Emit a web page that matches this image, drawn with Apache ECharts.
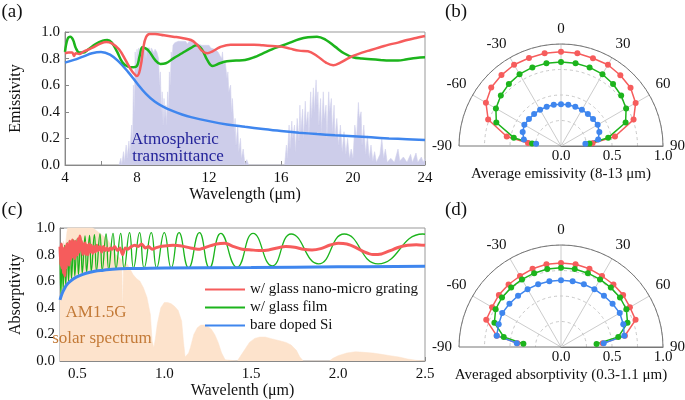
<!DOCTYPE html>
<html><head><meta charset="utf-8">
<script src="https://cdn.jsdelivr.net/npm/echarts@6/dist/echarts.min.js"></script>
<style>html,body{margin:0;padding:0;background:#fff}#c{width:685px;height:400px}</style>
</head><body><div id="c"></div>
<script>
// ---------- Panel (a): spectral emissivity ----------
const aRedX   = [4.0,4.2,4.4,4.5,4.6,4.8,5.0,5.5,6.0,6.3,6.6,7.0,7.4,7.7,8.0,8.2,8.35,8.5,8.7,9.0,9.5,10.0,10.5,11.0,11.3,11.6,11.9,12.2,12.6,13.2,14.0,14.5,15.0,15.5,16.0,16.5,17.0,17.5,18.0,18.5,18.9,19.3,19.7,20.0,20.5,21.0,21.5,22.0,22.5,23.0,23.5,24.0];
const aRedY   = [0.84,0.845,0.845,0.82,0.84,0.835,0.85,0.88,0.915,0.925,0.915,0.87,0.78,0.71,0.67,0.74,0.88,0.96,0.985,0.985,0.975,0.965,0.955,0.94,0.91,0.86,0.84,0.855,0.885,0.905,0.905,0.905,0.9,0.895,0.89,0.875,0.86,0.855,0.82,0.77,0.75,0.77,0.80,0.82,0.845,0.865,0.885,0.905,0.92,0.94,0.955,0.97];
const aGreenX = [4.0,4.15,4.3,4.45,4.6,4.8,5.0,5.3,5.7,6.1,6.35,6.6,6.9,7.2,7.5,7.8,8.0,8.15,8.3,8.5,8.7,9.0,9.3,9.6,10.0,10.5,11.0,11.3,11.6,11.9,12.2,12.6,13.0,13.5,14.0,14.5,15.0,15.5,16.0,16.5,17.0,17.5,18.0,18.5,19.0,19.5,20.0,20.5,21.0,21.5,22.0,22.5,23.0,23.5,24.0];
const aGreenY = [0.85,0.95,0.965,0.94,0.88,0.845,0.845,0.87,0.91,0.935,0.94,0.92,0.85,0.77,0.74,0.735,0.745,0.82,0.885,0.875,0.85,0.79,0.76,0.765,0.80,0.84,0.88,0.90,0.87,0.79,0.745,0.765,0.78,0.785,0.79,0.81,0.84,0.87,0.895,0.92,0.945,0.96,0.965,0.94,0.89,0.84,0.81,0.80,0.795,0.79,0.785,0.785,0.795,0.805,0.81];
const aBlueX  = [4.0,4.5,5.0,5.5,6.0,6.5,7.0,7.5,8.0,8.5,9.0,9.5,10.0,10.5,11.0,12.0,13.0,14.0,15.0,16.0,17.0,18.0,19.0,20.0,21.0,22.0,23.0,24.0];
const aBlueY  = [0.77,0.79,0.815,0.84,0.85,0.83,0.775,0.70,0.615,0.535,0.475,0.435,0.405,0.38,0.36,0.33,0.305,0.287,0.27,0.255,0.243,0.233,0.224,0.216,0.208,0.2,0.194,0.188];
const atmX = [7.0,7.1,7.15,7.25,7.3,7.4,7.45,7.55,7.6,7.7,7.75,7.8,7.85,7.9,7.95,8.0,8.05,8.1,8.15,8.2,8.25,8.3,8.35,8.4,8.45,8.5,8.55,8.6,8.7,8.75,8.8,8.9,8.95,9.0,9.1,9.2,9.25,9.3,9.35,9.4,9.45,9.5,9.55,9.6,9.65,9.7,9.75,9.8,9.85,9.9,9.95,10.0,10.1,10.2,10.3,10.4,10.5,10.6,10.7,10.8,10.9,11.0,11.1,11.2,11.3,11.4,11.5,11.6,11.7,11.8,11.9,12.0,12.1,12.2,12.3,12.4,12.5,12.6,12.7,12.75,12.8,12.9,13.0,13.05,13.1,13.2,13.25,13.3,13.4,13.45,13.5,13.6,13.65,13.75,13.8,13.9,14.0,14.1,14.2,
  16.2,16.3,16.35,16.45,16.5,16.6,16.65,16.75,16.8,16.9,17.0,17.05,17.1,17.2,17.25,17.35,17.4,17.5,17.55,17.65,17.7,17.8,17.85,17.95,18.0,18.05,18.1,18.2,18.25,18.35,18.4,18.5,18.55,18.65,18.7,18.8,18.85,18.95,19.0,19.1,19.2,19.3,19.4,19.5,19.6,19.7,19.8,19.9,20.0,20.1,20.2,20.3,20.35,20.45,20.5,20.6,20.7,20.8,20.9,21.0,21.1,21.2,21.3,21.5,21.6,21.7,21.8,21.9,22.1,22.3,22.5,22.6,22.8,23.0,23.2,23.3,23.5,23.6,23.8,23.9,24.0];
const atmY = [0,0.05,0,0.10,0.02,0.15,0.05,0.18,0.08,0.30,0.15,0.60,0.40,0.85,0.70,0.87,0.80,0.88,0.84,0.86,0.88,0.82,0.88,0.86,0.88,0.80,0.88,0.87,0.88,0.83,0.88,0.87,0.84,0.87,0.85,0.80,0.60,0.70,0.40,0.55,0.30,0.50,0.35,0.45,0.30,0.55,0.40,0.70,0.60,0.85,0.80,0.90,0.92,0.91,0.93,0.92,0.93,0.92,0.93,0.91,0.93,0.92,0.93,0.91,0.92,0.91,0.92,0.90,0.91,0.90,0.89,0.90,0.88,0.89,0.87,0.88,0.85,0.86,0.80,0.85,0.75,0.78,0.65,0.70,0.55,0.60,0.40,0.50,0.25,0.35,0.15,0.30,0.10,0.20,0.05,0.12,0.0,0.04,0,
  0,0.15,0.05,0.30,0.12,0.33,0.20,0.30,0.10,0.35,0.18,0.45,0.25,0.42,0.20,0.48,0.30,0.40,0.22,0.55,0.35,0.58,0.40,0.64,0.45,0.55,0.30,0.50,0.25,0.55,0.35,0.45,0.20,0.55,0.40,0.50,0.25,0.45,0.20,0.35,0.15,0.30,0.10,0.25,0.08,0.20,0.05,0.12,0.05,0.30,0.20,0.47,0.35,0.40,0.15,0.30,0.08,0.22,0.05,0.15,0.03,0.10,0.02,0.08,0.20,0.05,0.12,0.02,0.05,0.02,0.12,0.03,0.06,0.02,0.08,0.02,0.09,0.02,0.06,0.02,0.05];
const aXTicks = [4,8,12,16,20,24];

// ---------- Panel (c): spectral absorptivity ----------
const cRedX = [0.400,0.404,0.408,0.412,0.416,0.420,0.424,0.428,0.432,0.436,0.440,0.444,0.448,0.452,0.456,0.460,0.464,0.468,0.472,0.476,0.480,0.484,0.488,0.492,0.496,0.500,0.505,0.510,0.515,0.520,0.525,0.530,0.535,0.540,0.545,0.550,0.556,0.562,0.568,0.574,0.580,0.588,0.596,0.604,0.612,0.620,0.630,0.640,0.650,0.660,0.670,0.680,0.690,0.700,0.715,0.730,0.745,0.760,0.775,0.790,0.810,0.830,0.850,0.870,0.890,0.910,0.930,0.950,0.975,1.00,1.05,1.10,1.15,1.20,1.25,1.30,1.35,1.40,1.45,1.50,1.55,1.60,1.65,1.70,1.75,1.80,1.85,1.90,1.95,2.00,2.05,2.10,2.15,2.20,2.25,2.30,2.35,2.40,2.45,2.50];
const cRedY = [0.86,0.72,0.88,0.70,0.85,0.66,0.80,0.64,0.86,0.70,0.88,0.74,0.83,0.72,0.90,0.76,0.88,0.78,0.91,0.80,0.86,0.77,0.90,0.79,0.87,0.80,0.92,0.82,0.94,0.84,0.90,0.80,0.88,0.81,0.89,0.80,0.87,0.80,0.88,0.82,0.87,0.81,0.86,0.82,0.87,0.83,0.86,0.82,0.86,0.83,0.85,0.83,0.85,0.84,0.86,0.83,0.85,0.80,0.85,0.84,0.86,0.87,0.86,0.88,0.85,0.86,0.84,0.85,0.86,0.865,0.87,0.865,0.85,0.84,0.86,0.88,0.885,0.86,0.84,0.835,0.83,0.835,0.85,0.86,0.855,0.84,0.835,0.845,0.87,0.885,0.88,0.855,0.82,0.80,0.805,0.83,0.855,0.87,0.875,0.87];
const cGreenX = [0.400,0.405,0.413,0.418,0.427,0.433,0.443,0.449,0.460,0.466,0.479,0.485,0.499,0.506,0.520,0.528,0.544,0.553,0.570,0.580,0.598,0.610,0.630,0.643,0.665,0.680,0.705,0.722,0.749,0.769,0.800,0.823,0.858,0.884,0.925,0.956,1.000,1.040,1.085,1.140,1.202,1.260,1.325,1.418,1.511,1.621,1.730,1.888,2.035,2.230,2.487,2.500];
const cGreenY = [0.82,0.50,0.85,0.54,0.87,0.57,0.89,0.60,0.90,0.62,0.91,0.64,0.92,0.65,0.93,0.66,0.94,0.67,0.945,0.675,0.95,0.68,0.955,0.685,0.955,0.69,0.96,0.695,0.96,0.695,0.965,0.70,0.965,0.70,0.965,0.70,0.965,0.70,0.965,0.70,0.965,0.70,0.96,0.705,0.96,0.715,0.955,0.73,0.955,0.73,0.955,0.953];
const cBlueX = [0.40,0.41,0.42,0.43,0.44,0.46,0.48,0.50,0.55,0.60,0.65,0.70,0.80,1.0,1.5,2.0,2.5];
const cBlueY = [0.46,0.50,0.53,0.555,0.575,0.60,0.62,0.635,0.66,0.675,0.683,0.69,0.695,0.70,0.703,0.708,0.712];
const solarX = [0.40,0.41,0.42,0.43,0.44,0.45,0.46,0.47,0.48,0.49,0.50,0.52,0.54,0.56,0.58,0.60,0.62,0.64,0.66,0.68,0.70,0.72,0.74,0.755,0.760,0.765,0.78,0.80,0.82,0.84,0.86,0.88,0.90,0.92,0.93,0.94,0.95,0.96,0.98,1.00,1.02,1.04,1.06,1.08,1.10,1.11,1.12,1.13,1.14,1.15,1.17,1.19,1.21,1.23,1.25,1.27,1.29,1.31,1.33,1.35,1.36,1.42,1.43,1.45,1.47,1.49,1.52,1.55,1.58,1.61,1.64,1.67,1.70,1.73,1.76,1.78,1.80,1.95,1.97,2.00,2.05,2.10,2.15,2.20,2.25,2.30,2.35,2.40,2.45,2.50];
const solarY = [0.78,0.85,0.90,0.86,0.97,1.05,1.08,1.07,1.08,1.04,1.06,1.03,1.05,1.02,1.01,0.99,0.97,0.95,0.93,0.90,0.86,0.80,0.78,0.76,0.35,0.72,0.74,0.70,0.65,0.62,0.60,0.55,0.48,0.35,0.15,0.10,0.18,0.28,0.40,0.44,0.44,0.43,0.41,0.38,0.30,0.15,0.03,0.02,0.06,0.10,0.20,0.25,0.27,0.27,0.26,0.24,0.20,0.14,0.06,0.01,0,0,0.02,0.06,0.10,0.14,0.17,0.18,0.18,0.17,0.16,0.15,0.14,0.12,0.08,0.03,0,0,0.02,0.04,0.06,0.07,0.065,0.06,0.05,0.04,0.03,0.015,0.005,0];
const cXLabels = [0.5,1.0,1.5,2.0,2.5];
const cXTicks = [0.5,0.75,1.0,1.25,1.5,1.75,2.0,2.25,2.5];

// ---------- Panels (b),(d): angular dependence ----------
const angles = [-85,-80,-70,-60,-50,-40,-30,-20,-10,0,10,20,30,40,50,60,70,80,85];
const bRed   = [0.325,0.54,0.76,0.85,0.893,0.908,0.92,0.918,0.923,0.925,0.923,0.916,0.92,0.905,0.89,0.845,0.757,0.537,0.31];
const bGreen = [0.285,0.47,0.675,0.737,0.77,0.795,0.813,0.82,0.823,0.824,0.823,0.82,0.813,0.794,0.77,0.737,0.674,0.47,0.28];
const bBlue  = [0.245,0.37,0.40,0.415,0.41,0.41,0.41,0.41,0.41,0.41,0.41,0.41,0.41,0.41,0.41,0.415,0.40,0.37,0.24];
const dRed   = [0.43,0.64,0.78,0.78,0.795,0.80,0.804,0.816,0.823,0.824,0.823,0.816,0.804,0.80,0.795,0.78,0.778,0.636,0.41];
const dGreen = [0.37,0.57,0.695,0.74,0.755,0.76,0.765,0.77,0.776,0.778,0.776,0.77,0.765,0.76,0.755,0.74,0.694,0.57,0.35];
const dBlue  = [0.435,0.64,0.65,0.665,0.66,0.655,0.655,0.655,0.655,0.654,0.655,0.655,0.655,0.655,0.66,0.665,0.65,0.63,0.42];

const RED = '#f65c5c', GREEN = '#1cb41c', BLUE = '#3f86ee';
const FONT = "'Liberation Serif','DejaVu Serif',serif";
const TXT = '#111';
const zip = (xs, ys) => xs.map((x, i) => [x, ys[i]]);
const polarPts = rs => rs.map((r, i) => [r, -angles[i]]);

const chart = echarts.init(document.getElementById('c'), null, {renderer: 'canvas'});

const cartX = (idx, extra) => Object.assign({
  gridIndex: idx, type: 'value', nameLocation: 'middle',
  nameTextStyle: {fontFamily: FONT, fontSize: 16, color: TXT},
  axisLine: {lineStyle: {color: '#888'}},
  axisTick: {inside: true, length: 4, lineStyle: {color: '#888'}},
  axisLabel: {fontFamily: FONT, fontSize: 15, color: TXT, margin: 6},
  splitLine: {show: false}
}, extra);
const cartY = (idx, extra) => Object.assign({
  gridIndex: idx, type: 'value', min: 0, max: 1, interval: 0.2, nameLocation: 'middle',
  nameTextStyle: {fontFamily: FONT, fontSize: 16, color: TXT},
  axisLine: {lineStyle: {color: '#888'}},
  axisTick: {inside: true, length: 4, lineStyle: {color: '#888'}},
  axisLabel: {fontFamily: FONT, fontSize: 15, color: TXT, margin: 5, formatter: v => v.toFixed(1)},
  splitLine: {show: false}
}, extra);

const angleAx = i => ({
  polarIndex: i, type: 'value', min: -90, max: 90, interval: 30,
  startAngle: 0, endAngle: 180, clockwise: false,
  axisLine: {show: true, lineStyle: {color: '#777', width: 1}},
  axisTick: {show: false},
  axisLabel: {show: true, margin: 7, color: TXT, fontFamily: FONT, fontSize: 15, formatter: v => String(-v)},
  splitLine: {show: true, lineStyle: {color: ['#777', '#ccc', '#ccc', '#ccc', '#ccc', '#ccc', '#777'], width: 1}}
});
const radiusAx = i => ({
  polarIndex: i, type: 'value', min: 0, max: 1, interval: 0.25,
  axisLine: {show: true, lineStyle: {color: '#777'}},
  axisTick: {show: false},
  axisLabel: {margin: -18, color: TXT, fontFamily: FONT, fontSize: 15,
    formatter: v => (Math.abs(v * 2 - Math.round(v * 2)) < 1e-6 ? v.toFixed(1) : '')},
  splitLine: {show: true, lineStyle: {type: [3, 3], color: '#c8c8c8'}}
});
const polarLine = (pi, rs, color) => ({
  type: 'line', coordinateSystem: 'polar', polarIndex: pi, data: polarPts(rs),
  symbol: 'circle', symbolSize: 6, itemStyle: {color}, lineStyle: {color, width: 1.5}
});
const cartLine = (name, gi, xs, ys, color, width, smooth) => ({
  name, type: 'line', xAxisIndex: gi, yAxisIndex: gi, data: zip(xs, ys),
  symbol: 'none', smooth, itemStyle: {color}, lineStyle: {color, width}
});
const label = (x, y, text, size, fill, align) => ({
  type: 'text', x, y, z: 100, zlevel: 1,
  style: {text, font: size + 'px ' + FONT, fill, align: align || 'center', verticalAlign: 'middle'}
});

chart.setOption({
  animation: false,
  backgroundColor: '#fff',
  textStyle: {fontFamily: FONT},
  grid: [
    {left: 53, top: 32, width: 372, height: 133, show: true, borderColor: '#999', borderWidth: 1},
    {left: 48, top: 228, width: 377, height: 136, show: true, borderColor: '#999', borderWidth: 1}
  ],
  xAxis: [
    cartX(0, {min: 4, max: 24, interval: 2, name: 'Wavelength (\u03bcm)', nameGap: 22,
      axisLabel: {fontFamily: FONT, fontSize: 15, color: TXT, margin: 6,
        formatter: v => (aXTicks.indexOf(v) >= 0 ? String(v) : '')}}),
    cartX(1, {min: 0.4, max: 2.5, name: 'Wavelenth (\u03bcm)', nameGap: 22,
      axisTick: {inside: true, length: 4, lineStyle: {color: '#888'}, customValues: cXTicks},
      axisLabel: {fontFamily: FONT, fontSize: 15, color: TXT, margin: 6, customValues: cXLabels,
        formatter: v => v.toFixed(1)}})
  ],
  yAxis: [
    cartY(0, {name: 'Emissivity', nameGap: 41}),
    cartY(1, {name: 'Absorptivity', nameGap: 36})
  ],
  polar: [
    {center: [561, 146], radius: 102},
    {center: [561, 347], radius: 102}
  ],
  angleAxis: [angleAx(0), angleAx(1)],
  radiusAxis: [radiusAx(0), radiusAx(1)],
  legend: {
    data: ['w/ glass nano-micro grating', 'w/ glass film', 'bare doped Si'],
    orient: 'vertical', left: 199, top: 277, itemWidth: 40, itemHeight: 14, itemGap: 3,
    itemStyle: {opacity: 0},
    textStyle: {fontFamily: FONT, fontSize: 15, color: TXT},
    backgroundColor: 'transparent'
  },
  series: [
    {name: 'atm', type: 'line', xAxisIndex: 0, yAxisIndex: 0, data: zip(atmX, atmY), symbol: 'none',
      lineStyle: {color: '#d2d2ec', width: 0.6}, areaStyle: {color: '#cdcdea', opacity: 1}, z: 1},
    cartLine('a-blue', 0, aBlueX, aBlueY, BLUE, 2.5, 0.4),
    cartLine('a-green', 0, aGreenX, aGreenY, GREEN, 2.5, 0.4),
    cartLine('a-red', 0, aRedX, aRedY, RED, 2.5, 0.4),
    {name: 'solar', type: 'line', xAxisIndex: 1, yAxisIndex: 1, data: zip(solarX, solarY), symbol: 'none',
      lineStyle: {color: '#fde3cc', width: 0.5}, areaStyle: {color: '#fde3cc', opacity: 1}, z: 1},
    cartLine('w/ glass film', 1, cGreenX, cGreenY, GREEN, 1.3, 0.5),
    cartLine('w/ glass nano-micro grating', 1, cRedX, cRedY, RED, 3, 0.2),
    cartLine('bare doped Si', 1, cBlueX, cBlueY, BLUE, 3, 0.4),
    polarLine(0, bRed, RED), polarLine(0, bGreen, GREEN), polarLine(0, bBlue, BLUE),
    polarLine(1, dRed, RED), polarLine(1, dGreen, GREEN), polarLine(1, dBlue, BLUE)
  ],
  graphic: [
    label(12, 12, '(a)', 19, TXT),
    label(456, 12, '(b)', 19, TXT),
    label(12, 210, '(c)', 19, TXT),
    label(456, 210, '(d)', 19, TXT),
    label(175, 140, 'Atmospheric', 17, '#23239a'),
    label(178, 157, 'transmittance', 17, '#23239a'),
    label(96, 313, 'AM1.5G', 17, '#c37a37'),
    label(102, 339, 'solar spectrum', 17, '#c37a37'),
    label(561, 174, 'Average emissivity (8-13 \u03bcm)', 15, TXT),
    label(561, 375, 'Averaged absorptivity (0.3-1.1 \u03bcm)', 15, TXT)
  ]
});
</script></body></html>
